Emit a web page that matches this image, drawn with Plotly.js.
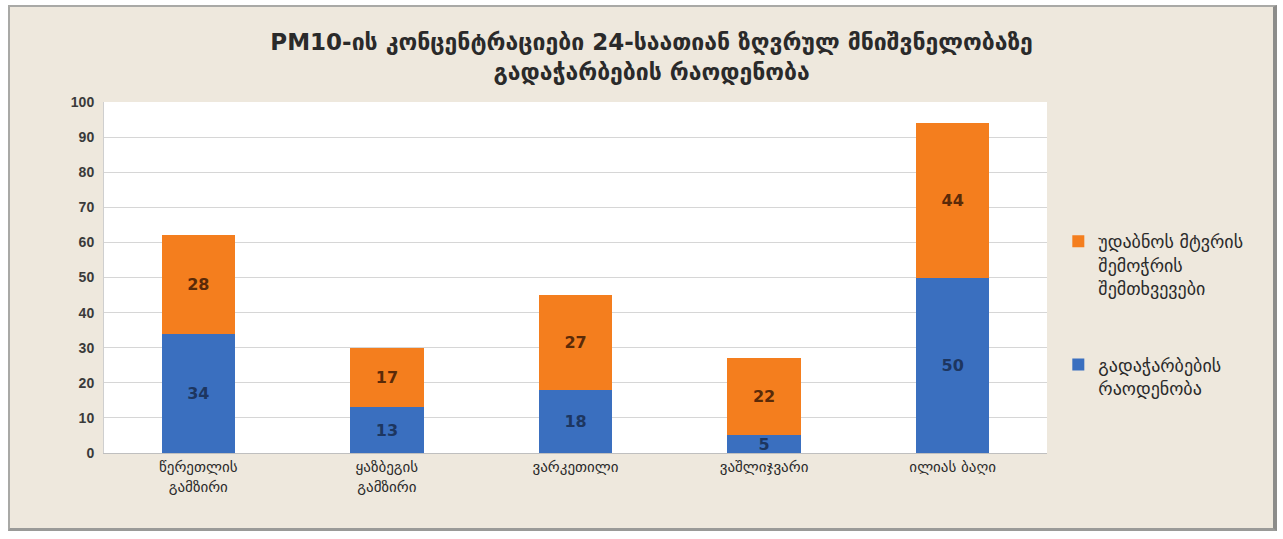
<!DOCTYPE html>
<html>
<head>
<meta charset="utf-8">
<script src="https://cdn.plot.ly/plotly-3.0.1.min.js"></script>
<style>
  html, body { margin: 0; padding: 0; background: #ffffff; }
  #frame {
    position: absolute; left: 8px; top: 5px; width: 1263px; height: 521px;
    border: 2px solid #a9a9a6; border-right: 4px solid #8c8c8a; border-bottom: 3px solid #9a9a98;
    background: #eee8dd;
  }
  #chart { width: 1263px; height: 521px; }
</style>
</head>
<body>
<div id="frame"><div id="chart"></div></div>
<script>
const categories = ["წერეთლის<br>გამზირი", "ყაზბეგის<br>გამზირი", "ვარკეთილი", "ვაშლიჯვარი", "ილიას ბაღი"];
const exceedances = [34, 13, 18, 5, 50];
const dustEvents = [28, 17, 27, 22, 44];
const seriesNames = ["გადაჭარბების<br>რაოდენობა", "უდაბნოს მტვრის<br>შემოჭრის<br>შემთხვევები"];
const yTicks = [0, 10, 20, 30, 40, 50, 60, 70, 80, 90, 100];

const FONT = "DejaVu Sans, Noto Sans, sans-serif";

const traces = [
  {
    type: "bar", name: seriesNames[0], x: categories, y: exceedances,
    legendgroup: "blue", legendrank: 2,
    marker: { color: "#3a6fbf" },
    text: exceedances.map(String), textposition: "inside", insidetextanchor: "middle",
    textangle: 0,
    textfont: { family: FONT, size: 16, color: "#1d3660", weight: "bold" },
    constraintext: "none", hoverinfo: "y"
  },
  {
    type: "bar", name: seriesNames[1], x: categories, y: dustEvents,
    legendgroup: "orange", legendrank: 1,
    marker: { color: "#f47e1e" },
    text: dustEvents.map(String), textposition: "inside", insidetextanchor: "middle",
    textangle: 0,
    textfont: { family: FONT, size: 16, color: "#5a2a08", weight: "bold" },
    constraintext: "none", hoverinfo: "y"
  }
];

const layout = {
  width: 1263, height: 521,
  paper_bgcolor: "#eee8dd",
  plot_bgcolor: "#ffffff",
  barmode: "stack",
  bargap: 0.61,
  margin: { l: 94, r: 226, t: 95, b: 75 },
  title: {
    text: "PM10-ის კონცენტრაციები 24-საათიან ზღვრულ მნიშვნელობაზე<br>გადაჭარბების რაოდენობა",
    x: 0.508, xanchor: "center", y: 0.917, yanchor: "top",
    font: { family: FONT, size: 23, color: "#2a2a2a", weight: "bold" }
  },
  xaxis: {
    type: "category",
    tickfont: { family: FONT, size: 15, color: "#2a2a2a" },
    showline: true, linecolor: "#bfbfbf", linewidth: 1,
    ticks: "", showgrid: false
  },
  yaxis: {
    range: [0, 100], tickvals: yTicks,
    tickfont: { family: "Liberation Sans, sans-serif", size: 14, color: "#3a3a3a", weight: "bold" },
    showgrid: true, gridcolor: "#d6d6d6", gridwidth: 1,
    showline: true, linecolor: "#cfcfcf", zeroline: false,
    ticks: "", ticklabelstandoff: 6
  },
  legend: {
    x: 1.012, xanchor: "left", y: 0.655, yanchor: "top",
    traceorder: "grouped", valign: "top",
    font: { family: FONT, size: 18, color: "#2a2a2a" },
    tracegroupgap: 50, bgcolor: "rgba(0,0,0,0)",
    itemwidth: 30
  },
  showlegend: true
};

Plotly.newPlot("chart", traces, layout, { displayModeBar: false, staticPlot: true });
</script>
</body>
</html>
